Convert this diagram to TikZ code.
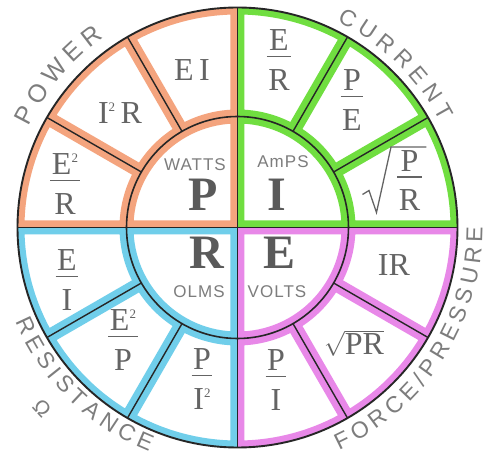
\documentclass[tikz,border=0pt]{standalone}
\usepackage{fontspec}
\setmainfont{Liberation Serif}
\newfontfamily\hand[LetterSpace=6]{Liberation Sans}
\newfontfamily\handc{Liberation Sans}
\usetikzlibrary{decorations.text,calc}
\definecolor{pw}{RGB}{244,164,126}
\definecolor{cu}{RGB}{112,222,64}
\definecolor{rs}{RGB}{112,206,234}
\definecolor{vo}{RGB}{232,136,232}
\definecolor{txt}{RGB}{100,100,100}
\definecolor{hd}{RGB}{125,125,125}
\newcommand\fr[2]{{\setlength\arrayrulewidth{1.4pt}\begin{tabular}{@{\hspace{1.5pt}}c@{\hspace{1.5pt}}}#1\\[-6.5pt]\hline\rule{0pt}{33pt}#2\end{tabular}}}
\newcommand\two{\raisebox{12pt}{\fontsize{13}{13}\selectfont 2}}
\tikzset{
  cell/.style={font=\fontsize{32}{38.4}\selectfont, text=txt, inner sep=0pt, anchor=center},
  big/.style={font=\fontsize{48}{50}\selectfont\bfseries, text=txt!90!black, inner sep=0pt},
  unit/.style={font=\hand\fontsize{17}{17}\selectfont, text=hd, inner sep=0pt},
  band/.style={line width=14pt},
  blk/.style={line width=1.6pt, draw=black!85},
  arclabel/.style={decorate, decoration={text along path, text color=hd, text align={fit to path}}},
  radical/.style={draw=txt, line width=1.3pt, line join=miter},
}
\begin{document}
\begin{tikzpicture}[x=1pt,y=1pt]
\useasboundingbox (-237.5,-232.5) rectangle (250.5,227.5);
\fill[white] (-237.5,-232.5) rectangle (250.5,227.5);
\def\Ri{111}\def\Ro{220}
% coloured bands inside each cell
\foreach \a/\c in {90/pw,0/cu,180/rs,270/vo} {
  \begin{scope}
    \clip (0,0) -- (\a:\Ri) arc[start angle=\a, delta angle=90, radius=\Ri] -- cycle;
    \draw[\c, band] (0,0) -- (\a:\Ri) arc[start angle=\a, delta angle=90, radius=\Ri] -- cycle;
  \end{scope}
  \foreach \k in {0,30,60} {
    \pgfmathsetmacro\s{\a+\k}
    \pgfmathsetmacro\e{\a+\k+30}
    \begin{scope}
      \clip (\s:\Ri) -- (\s:\Ro) arc[start angle=\s, end angle=\e, radius=\Ro] -- (\e:\Ri) arc[start angle=\e, end angle=\s, radius=\Ri] -- cycle;
      \draw[\c, band] (\s:\Ri) -- (\s:\Ro) arc[start angle=\s, end angle=\e, radius=\Ro] -- (\e:\Ri) arc[start angle=\e, end angle=\s, radius=\Ri] -- cycle;
    \end{scope}
  }
}
% black lines
\draw[blk, line width=1.9pt] (0,0) circle[radius=\Ro];
\draw[blk] (0,0) circle[radius=\Ri];
\draw[blk] (-\Ro,0) -- (\Ro,0);
\draw[blk] (0,-\Ro) -- (0,\Ro);
\foreach \t in {30,60,120,150,210,240,300,330}
  \draw[blk, line width=1.4pt] (\t:\Ri) -- (\t:\Ro);
% inner quadrants
\node[big] (P) at (-34.5,32.5) {P};
\node[big] (I) at (39.5,32.5) {I};
\node[big] (R) at (-30.5,-25.5) {R};
\node[big] (E) at (42.5,-25.5) {E};
\node[unit] (watts) at (-42.5,62.5) {WATTS};
\node[unit] (amps) at (45.5,65.5) {AmPS};
\node[unit] (olms) at (-38.5,-64.5) {OLMS};
\node[unit] (volts) at (39.5,-64.5) {VOLTS};
% power
\node[cell] (ei) at (-45.5,157.5) {E\,I};
\node[cell] (i2r) at (-117.5,114.5) {I\two\,R};
\node[cell] (e2r) at (-172.5,40.5) {\fr{E\two}{R}};
% current
\node[cell] (er) at (41.5,164.5) {\fr{E}{R}};
\node[cell] (pe) at (114.5,124.5) {\fr{P}{E}};
\node[cell] (spr) at (172,44) {\fr{P}{R}};
\path[radical] (125,33) -- (131.5,37) -- ($(spr.center)+(-33,-29)$) -- ($(spr.center)+(-18.5,36.5)$) -- ($(spr.center)+(17,36.5)$);
% resistance
\node[cell] (ei2) at (-170.5,-55.5) {\fr{E}{I}};
\node[cell] (e2p) at (-114.5,-115.5) {\fr{E\two}{P}};
\node[cell] (pi2) at (-35.5,-154.5) {\fr{P}{I\two}};
% voltage
\node[cell] (ir) at (156.5,-37.5) {IR};
\node[cell] (sqpr) at (116.5,-115.5) {$\sqrt{\hbox{PR}}$};
\node[cell] (pi) at (38.5,-155.5) {\fr{P}{I}};
% curved labels
\path[arclabel, decoration={text={|\handc\fontsize{25}{25}\selectfont|POWER}}] (154.2:232) arc[start angle=154.2, end angle=125.2, radius=232];
\path[arclabel, decoration={text={|\handc\fontsize{23}{23}\selectfont|CURRENT}}] (64.3:229) arc[start angle=64.3, end angle=27.6, radius=229];
\path[arclabel, decoration={text={|\handc\fontsize{23}{23}\selectfont|RESISTANCE}}] (203:241) arc[start angle=203, end angle=248.5, radius=241];
\path[arclabel, decoration={text={|\handc\fontsize{23}{23}\selectfont|FORCE/PRESSURE}}] (294.5:245) arc[start angle=294.5, end angle=360, radius=245];
\node[font=\handc\fontsize{21}{21}\selectfont, text=hd, rotate=-47, inner sep=0pt] (ohm) at (222.7:266) {Ω};
\end{tikzpicture}
\end{document}
